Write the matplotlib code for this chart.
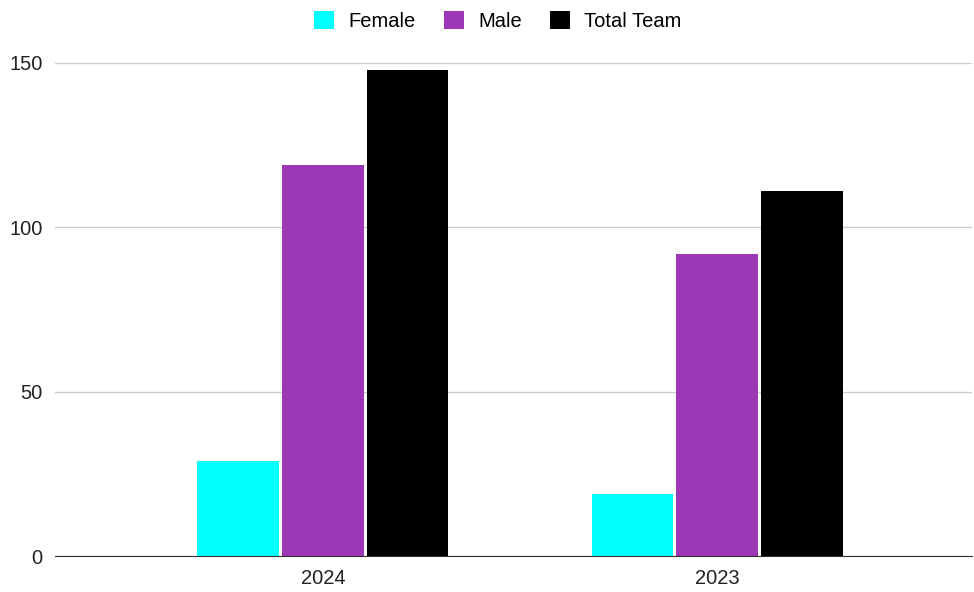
import numpy as np
import matplotlib.pyplot as plt

years = ["2024", "2023"]
female = [29, 19]
male = [119, 92]
total_team = [148, 111]

series = [
    ("Female", female, "#00FFFF"),
    ("Male", male, "#9C37B5"),
    ("Total Team", total_team, "#000000"),
]

plt.rcParams['font.family'] = ['Liberation Sans', 'DejaVu Sans']

fig = plt.figure(figsize=(9.74, 5.92), dpi=100)
ax = fig.add_axes([55 / 974, 1 - 556 / 592, (972 - 55) / 974, (556 - 63) / 592])

x = np.arange(len(years))
width = 0.206
step = 0.2155
for i, (name, vals, color) in enumerate(series):
    ax.bar(x + (i - 1) * step, vals, width=width, color=color, label=name, zorder=3)

ax.set_ylim(0, 150)
ax.set_xlim(-0.68, 1.647)
ax.set_yticks([0, 50, 100, 150])
ax.set_xticks(x)
ax.set_xticklabels(years)
ax.grid(axis='y', color='#cccccc', linewidth=1, zorder=0)
ax.tick_params(axis='both', length=0, labelsize=14.5, colors='#222222', pad=9)
ax.tick_params(axis='x', pad=9)
for side in ['top', 'right', 'left']:
    ax.spines[side].set_visible(False)
ax.spines['bottom'].set_color('#333333')
ax.spines['bottom'].set_zorder(4)

handles, labels = ax.get_legend_handles_labels()
fig.legend(handles, labels, loc='upper center', bbox_to_anchor=(0.511, 1.012), ncol=3,
           frameon=False, fontsize=14.5, handlelength=1.0, handleheight=1.0,
           handletextpad=0.7, columnspacing=1.4)

fig.savefig("out.png", dpi=100)
